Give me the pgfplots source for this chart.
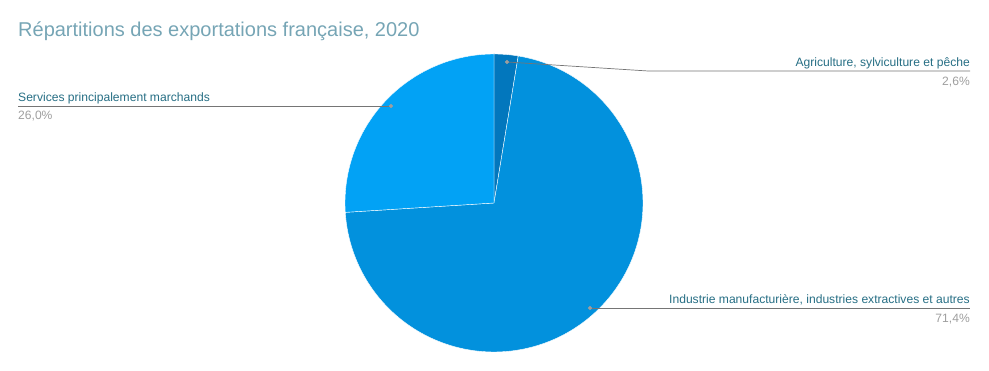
\documentclass[border=0pt]{standalone}
\usepackage{pgfplots}
\pgfplotsset{compat=1.18}
\usepackage{fontspec}
\setmainfont{Liberation Sans}
\definecolor{cAgri}{HTML}{0277BD}
\definecolor{cInd}{HTML}{0291DD}
\definecolor{cServ}{HTML}{02A2F5}
\definecolor{cTitle}{HTML}{76A5B5}
\definecolor{cLab}{HTML}{266E84}
\definecolor{cPct}{HTML}{9E9E9E}
\definecolor{cLine}{HTML}{757575}
% values (percent)
\def\vAgri{2.6}
\def\vInd{71.4}
\def\vServ{26.0}
\begin{document}
\begin{tikzpicture}
\pgfmathsetmacro{\aA}{90}
\pgfmathsetmacro{\aB}{90-3.6*\vAgri}
\pgfmathsetmacro{\aC}{\aB-3.6*\vInd}
\pgfmathsetmacro{\aD}{\aC-3.6*\vServ}
\begin{axis}[
  at={(0,0)}, anchor=origin,
  width=989pt, height=371pt, scale only axis,
  xmin=0, xmax=989, ymin=0, ymax=371,
  hide axis, clip=false,
]
\addplot[fill=cAgri, draw=white, line width=0.4pt, domain=\aA:\aB, samples=20, variable=\t]
  ({494+149*cos(\t)},{168+149*sin(\t)}) -- (axis cs:494,168) -- cycle;
\addplot[fill=cInd, draw=white, line width=0.4pt, domain=\aB:\aC, samples=200, variable=\t]
  ({494+149*cos(\t)},{168+149*sin(\t)}) -- (axis cs:494,168) -- cycle;
\addplot[fill=cServ, draw=white, line width=0.4pt, domain=\aC:\aD, samples=80, variable=\t]
  ({494+149*cos(\t)},{168+149*sin(\t)}) -- (axis cs:494,168) -- cycle;
% leader lines
\addplot[cLine, line width=0.7pt, no marks] coordinates {(507,309) (648,300) (970,300)};
\addplot[cLine, line width=0.7pt, no marks] coordinates {(391,265) (18,265)};
\addplot[cLine, line width=0.7pt, no marks] coordinates {(590,63) (970,63)};
\addplot[only marks, mark=*, mark size=1.8pt, color=cPct] coordinates {(507,309) (391,265) (590,63)};
% labels
\node[anchor=base east, inner sep=0, text=cLab, font=\fontsize{12.1}{14}\selectfont] at (axis cs:970,304) {Agriculture, sylviculture et pêche};
\node[anchor=base east, inner sep=0, text=cPct, font=\fontsize{12.1}{14}\selectfont] at (axis cs:970,285) {2,6\%};
\node[anchor=base west, inner sep=0, text=cLab, font=\fontsize{12.1}{14}\selectfont] at (axis cs:18,269) {Services principalement marchands};
\node[anchor=base west, inner sep=0, text=cPct, font=\fontsize{12.1}{14}\selectfont] at (axis cs:18,251) {26,0\%};
\node[anchor=base east, inner sep=0, text=cLab, font=\fontsize{12.1}{14}\selectfont] at (axis cs:970,67) {Industrie manufacturière, industries extractives et autres};
\node[anchor=base east, inner sep=0, text=cPct, font=\fontsize{12.1}{14}\selectfont] at (axis cs:970,48) {71,4\%};
\node[anchor=base west, inner sep=0, text=cTitle, font=\fontsize{20}{23}\selectfont] at (axis cs:18,334) {Répartitions des exportations française, 2020};
\end{axis}
\path[use as bounding box] (0,0) rectangle (989pt,371pt);
\end{tikzpicture}
\end{document}
